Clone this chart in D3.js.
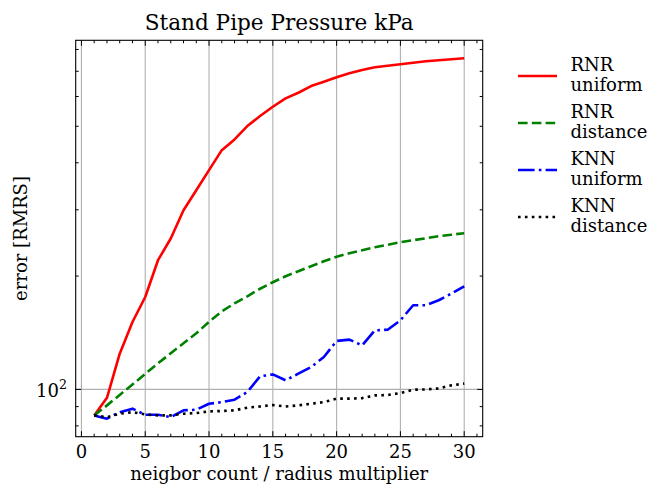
<!DOCTYPE html>
<html>
<head>
<meta charset="utf-8">
<script src="https://cdn.jsdelivr.net/npm/d3@7"></script>
<style>
  html, body { margin: 0; padding: 0; background: #fff; }
  svg { display: block; }
  text { font-family: "DejaVu Serif", serif; fill: #000; }
</style>
</head>
<body>
<script>
// ---- data ----
const neighbors = [1,2,3,4,5,6,7,8,9,10,11,12,13,14,15,16,17,18,19,20,21,22,23,24,25,26,27,28,29,30];
const rnrUniform = [85.3,95.0,124.4,151.0,176.0,220.4,251.7,299.2,338.2,382.4,432.1,461.4,500.6,532.3,563.4,593.1,613.8,639.5,656.6,674.6,691.3,705.4,717.2,724.2,730.5,737.6,744.0,748.6,753.2,757.8];
const rnrDistance = [85.3,90.7,96.7,103.1,109.9,117.3,124.7,132.6,140.9,151.2,161.2,169.3,176.7,185.1,192.6,199.8,206.0,212.4,219.0,225.1,230.0,234.2,238.6,242.3,246.0,249.1,252.1,255.2,257.6,260.0];
const knnUniform = [85.3,83.6,87.0,88.9,85.6,85.6,84.4,88.0,88.3,91.6,92.5,93.9,98.4,108.3,109.6,105.7,110.1,114.6,121.9,134.5,135.6,130.9,143.5,144.1,152.6,167.3,167.3,172.5,179.7,187.9];
const knnDistance = [85.3,84.4,86.2,87.0,85.8,85.3,85.3,86.2,86.5,87.4,87.6,88.0,89.4,90.1,90.9,90.1,90.7,91.6,92.5,94.5,94.5,94.8,96.4,96.6,97.8,99.8,100.0,100.6,102.5,103.6];
const seriesNames = ["RNR\nuniform", "RNR\ndistance", "KNN\nuniform", "KNN\ndistance"];
const xMajorTicks = [0,5,10,15,20,25,30];
const yMajorTicks = [100];
const yMinorTicks = [80,90,200,300,400,500,600,700,800];
const titleText = "Stand Pipe Pressure kPa";
const xLabelText = "neigbor count / radius multiplier";
const yLabelText = "error [RMRS]";

const W = 649, H = 484;
const L = 75.7, R = 482.7, T = 40.3, B = 436.7;

const svg = d3.select("body").append("svg").attr("width", W).attr("height", H);

// scales with matplotlib-like 5% margins
const xmin = d3.min(neighbors), xmax = d3.max(neighbors);
const xm = (xmax - xmin) * 0.05;
const x = d3.scaleLinear().domain([xmin - xm, xmax + xm]).range([L, R]);
const all = rnrUniform.concat(rnrDistance, knnUniform, knnDistance);
const lmin = Math.log10(d3.min(all)), lmax = Math.log10(d3.max(all));
const lm = (lmax - lmin) * 0.05;
const y = d3.scaleLog().domain([Math.pow(10, lmin - lm), Math.pow(10, lmax + lm)]).range([B, T]);

// grid
const grid = svg.append("g").attr("stroke", "#b0b0b0").attr("stroke-width", 1.1);
xMajorTicks.forEach(t => grid.append("line").attr("x1", x(t)).attr("x2", x(t)).attr("y1", T).attr("y2", B));
yMajorTicks.forEach(t => grid.append("line").attr("x1", L).attr("x2", R).attr("y1", y(t)).attr("y2", y(t)));

// series
const styles = [
  {data: rnrUniform, color: "#ff0000", dash: null},
  {data: rnrDistance, color: "#008000", dash: "9.6,4.2"},
  {data: knnUniform, color: "#0000ff", dash: "16.6,4.2,2.6,4.2"},
  {data: knnDistance, color: "#000000", dash: "2.6,4.3"}
];
const lw = 2.6;
const line = d3.line().x((d, i) => x(neighbors[i])).y(d => y(d));
const clip = svg.append("clipPath").attr("id", "clip").append("rect")
  .attr("x", L).attr("y", T).attr("width", R - L).attr("height", B - T);
styles.forEach(s => {
  svg.append("path").datum(s.data)
    .attr("d", line).attr("fill", "none").attr("stroke", s.color)
    .attr("stroke-width", lw).attr("stroke-dasharray", s.dash)
    .attr("stroke-linejoin", "round").attr("clip-path", "url(#clip)");
});

// axes (ticks inside, all four sides)
const axG = svg.append("g");
const xMinor = d3.range(0, 32).filter(v => xMajorTicks.indexOf(v) < 0);
function addXTicks(vals, len) {
  vals.forEach(v => {
    axG.append("line").attr("x1", x(v)).attr("x2", x(v)).attr("y1", B).attr("y2", B - len).attr("stroke", "#000").attr("stroke-width", 1);
    axG.append("line").attr("x1", x(v)).attr("x2", x(v)).attr("y1", T).attr("y2", T + len).attr("stroke", "#000").attr("stroke-width", 1);
  });
}
function addYTicks(vals, len) {
  vals.forEach(v => {
    axG.append("line").attr("x1", L).attr("x2", L + len).attr("y1", y(v)).attr("y2", y(v)).attr("stroke", "#000").attr("stroke-width", 1);
    axG.append("line").attr("x1", R).attr("x2", R - len).attr("y1", y(v)).attr("y2", y(v)).attr("stroke", "#000").attr("stroke-width", 1);
  });
}
addXTicks(xMajorTicks, 5.5);
addXTicks(xMinor, 3);
addYTicks(yMajorTicks, 5.5);
addYTicks(yMinorTicks, 3);

// frame
svg.append("rect").attr("x", L).attr("y", T).attr("width", R - L).attr("height", B - T)
  .attr("fill", "none").attr("stroke", "#000").attr("stroke-width", 1.1);

// tick labels
xMajorTicks.forEach(t => {
  svg.append("text").attr("x", x(t)).attr("y", 458).attr("text-anchor", "middle")
    .attr("font-size", 18).text(t);
});
yMajorTicks.forEach(t => {
  const e = Math.round(Math.log10(t));
  const tx = svg.append("text").attr("x", 67).attr("y", y(t) + 7.5).attr("text-anchor", "end").attr("font-size", 18);
  tx.append("tspan").text("10");
  tx.append("tspan").attr("font-size", 12.6).attr("dy", -7.5).text(e);
});

// labels
svg.append("text").attr("x", (L + R) / 2).attr("y", 29.5).attr("text-anchor", "middle")
  .attr("font-size", 21.6).text(titleText);
svg.append("text").attr("x", (L + R) / 2).attr("y", 479.6).attr("text-anchor", "middle")
  .attr("font-size", 18).text(xLabelText);
svg.append("text").attr("transform", `translate(26.5,${(T + B) / 2}) rotate(-90)`)
  .attr("text-anchor", "middle").attr("font-size", 18).text(yLabelText);

// legend
styles.forEach((s, i) => {
  const ly = 76 + i * 47;
  svg.append("line").attr("x1", 518).attr("x2", 557).attr("y1", ly).attr("y2", ly)
    .attr("stroke", s.color).attr("stroke-width", lw).attr("stroke-dasharray", s.dash);
  const parts = seriesNames[i].split("\n");
  parts.forEach((p, j) => {
    svg.append("text").attr("x", 570.5).attr("y", ly - 5 + j * 20.3).attr("font-size", 18).text(p);
  });
});
</script>
</body>
</html>
